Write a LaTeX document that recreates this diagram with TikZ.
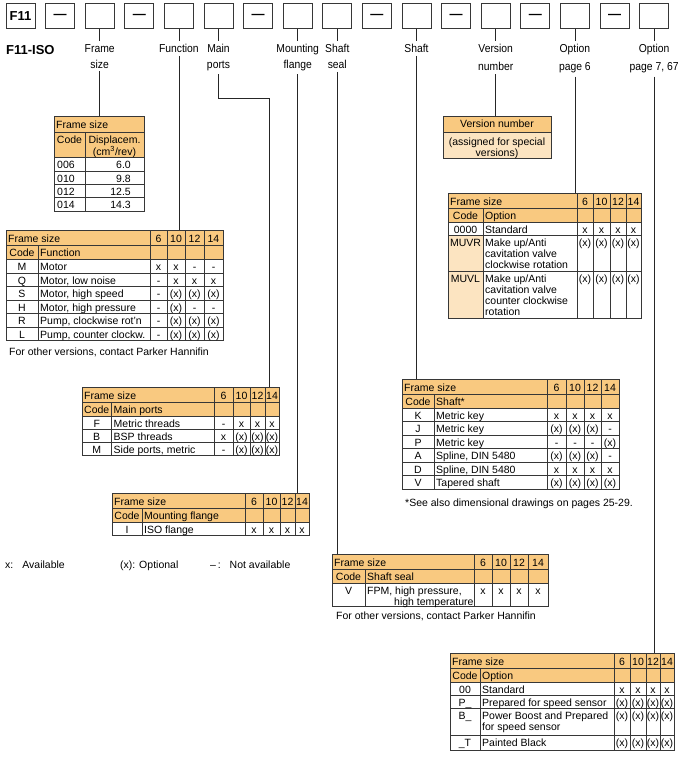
\documentclass[tikz,border=0pt]{standalone}
\usepackage{fontspec}
\setmainfont{Liberation Sans}
\newfontfamily\narrowfont[FakeStretch=0.9]{Liberation Sans}
\usetikzlibrary{positioning}

\definecolor{hdrorange}{RGB}{249,201,128}
\definecolor{peach}{RGB}{252,228,193}
\definecolor{rulegray}{RGB}{55,55,55}

\newcommand{\tablefont}{\fontsize{10.5}{11}\selectfont}

% grid of an option table: x0, y0, code|name, name|6, 6|10, 10|12, 12|14, right, bottom
\newcommand{\optgrid}[9]{%
  \fill[hdrorange] (#1,#2) rectangle (#8,#2+29);
  \draw[gridline] (#1,#2+15) -- (#8,#2+15) (#1,#2+29) -- (#8,#2+29) (#3,#2+15) -- (#3,#9);
  \foreach \xc in {#4,#5,#6,#7} \draw[gridline] (\xc,#2) -- (\xc,#9);
  \draw[gridline] (#1,#2) rectangle (#8,#9);
  \pgfmathsetmacro\tcode{(#1+#3)/2}
  \pgfmathsetmacro\tname{#3+2}
  \pgfmathsetmacro\tma{(#4+#5)/2}
  \pgfmathsetmacro\tmb{(#5+#6)/2}
  \pgfmathsetmacro\tmc{(#6+#7)/2}
  \pgfmathsetmacro\tmd{(#7+#8)/2}
  \def\tleft{#1}\def\tright{#8}
  \node[tx, anchor=base west] at (#1+2,#2+12) {Frame size};
  \node[tx, anchor=base] at (\tma,#2+12) {6};
  \node[tx, anchor=base] at (\tmb,#2+12) {10};
  \node[tx, anchor=base] at (\tmc,#2+12) {12};
  \node[tx, anchor=base] at (\tmd,#2+12) {14};
  \node[tx, anchor=base] at (\tcode,#2+26) {Code};
}
% one row: top, code, text, marks for 6/10/12/14
\newcommand{\datarow}[7]{%
  \draw[gridline] (\tleft,#1) -- (\tright,#1);
  \node[tx, anchor=base] at (\tcode,#1+11) {#2};
  \node[tx, anchor=north west, align=left, execute at begin node=\strut] at (\tname,#1+3.3) {#3};
  \node[tx, anchor=base] at (\tma,#1+11) {#4};
  \node[tx, anchor=base] at (\tmb,#1+11) {#5};
  \node[tx, anchor=base] at (\tmc,#1+11) {#6};
  \node[tx, anchor=base] at (\tmd,#1+11) {#7};
}

\begin{document}
\begin{tikzpicture}[
  x=1pt, y=-1pt,
  node distance=9.7pt,
  box/.style={draw=rulegray, line width=0.9pt, minimum width=29pt, minimum height=25pt, inner sep=0pt, font=\fontsize{13}{14}\selectfont\bfseries},
  lbl/.style={align=center, inner sep=3pt, font=\narrowfont\fontsize{11.5}{16}\selectfont},
  lblwide/.style={lbl, font=\narrowfont\fontsize{11.5}{18.5}\selectfont},
  tx/.style={inner sep=0pt, font=\tablefont},
  gridline/.style={draw=rulegray, line width=0.8pt},
  wire/.style={draw=black!85, line width=0.8pt}
]
\useasboundingbox (0,0) rectangle (683,761);

% ordering code boxes
\node[box] (b1) at (20.5,16) {F11};
\node[box, right=of b1] (b2) {—};
\node[box, right=of b2] (b3) {};
\node[box, right=of b3] (b4) {—};
\node[box, right=of b4] (b5) {};
\node[box, right=of b5] (b6) {};
\node[box, right=of b6] (b7) {—};
\node[box, right=of b7] (b8) {};
\node[box, right=of b8] (b9) {};
\node[box, right=of b9] (b10) {—};
\node[box, right=of b10] (b11) {};
\node[box, right=of b11] (b12) {—};
\node[box, right=of b12] (b13) {};
\node[box, right=of b13] (b14) {—};
\node[box, right=of b14] (b15) {};
\node[box, right=of b15] (b16) {—};
\node[box, right=of b16] (b17) {};
\node[anchor=base west, inner sep=0pt, font=\fontsize{13}{14}\selectfont\bfseries] (iso) at (6,54) {F11-ISO};

% labels
\node[lbl, below=12pt of b3] (l3) {Frame\\size};
\node[lbl, below=12pt of b5] (l5) {Function};
\node[lbl, below=12pt of b6] (l6) {Main\\ports};
\node[lbl, below=12pt of b8] (l8) {Mounting\\flange};
\node[lbl, below=12pt of b9] (l9) {Shaft\\seal};
\node[lbl, below=12pt of b11] (l11) {Shaft};
\node[lblwide, below=12pt of b13] (l13) {Version\\number};
\node[lblwide, below=12pt of b15] (l15) {Option\\page 6};
\node[lblwide, below=12pt of b17] (l17) {Option\\page 7, 67};

% table entry points
\coordinate (fsin) at (100,116);
\coordinate (fnin) at (180,230);
\coordinate (mpbend) at (269,98);
\coordinate (mpin) at (269,387);
\coordinate (mfin) at (298,493);
\coordinate (ssin) at (338,554);
\coordinate (shin) at (417,379);
\coordinate (vnin) at (497,116);
\coordinate (op6in) at (577,193);
\coordinate (op7in) at (652,653);

% connectors
\foreach \n in {3,5,6,8,9,11,13,15,17} \draw[wire] (b\n) -- (l\n);
\draw[wire] (l3) -- (l3 |- fsin);
\draw[wire] (l5) -- (l5 |- fnin);
\draw[wire] (l6) |- (mpbend) -- (mpin);
\draw[wire] (l8) -- (l8 |- mfin);
\draw[wire] (l9) -- (l9 |- ssin);
\draw[wire] (l11) -- (l11 |- shin);
\draw[wire] (l13) -- (l13 |- vnin);
\draw[wire] (l15) -- (l15 |- op6in);
\draw[wire] (l17) -- (l17 |- op7in);

% frame size / displacement
\fill[hdrorange] (54,116) rectangle (144,157);
\draw[gridline] (54,132) -- (144,132) (85,132) -- (85,211);
\foreach \yy in {157,171,184,197} \draw[gridline] (54,\yy) -- (144,\yy);
\draw[gridline] (54,116) rectangle (144,211);
\node[tx, anchor=base west] (fsttl) at (56,128) {Frame size};
\node[tx, anchor=base] (fscode) at (69.5,143) {Code};
\node[tx, anchor=north, align=center, execute at begin node=\strut] (fsdisp) at (114.5,135.3) {Displacem.\\(cm\textsuperscript{3}/rev)};
\foreach \yy/\cc/\vv in {157/006/6.0, 171/010/9.8, 184/012/12.5, 197/014/14.3} {
  \node[tx, anchor=base west] at (57,\yy+11) {\cc};
  \node[tx, anchor=base east] at (131,\yy+11) {\vv};
}

% function
\optgrid{6}{230}{38}{150}{167}{185}{204}{223}{340}
\node[tx, anchor=base west] (fnttl) at (\tname,256) {Function};
\datarow{259}{M}{Motor}{x}{x}{-}{-}
\datarow{273}{Q}{Motor, low noise}{-}{x}{x}{x}
\datarow{286}{S}{Motor, high speed}{-}{(x)}{(x)}{(x)}
\datarow{300}{H}{Motor, high pressure}{-}{(x)}{-}{-}
\datarow{313}{R}{Pump, clockwise rot'n}{-}{(x)}{(x)}{(x)}
\datarow{327}{L}{Pump, counter clockw.}{-}{(x)}{(x)}{(x)}
\node[tx, anchor=base west] (fnnote) at (9,355.5) {For other versions, contact Parker Hannifin};

% main ports
\optgrid{82}{387}{111.5}{214}{233}{250}{265}{279}{455}
\node[tx, anchor=base west] (mpttl) at (\tname,413) {Main ports};
\datarow{416}{F}{Metric threads}{-}{x}{x}{x}
\datarow{429}{B}{BSP threads}{x}{(x)}{(x)}{(x)}
\datarow{442}{M}{Side ports, metric}{-}{(x)}{(x)}{(x)}

% mounting flange
\optgrid{112}{493}{142}{245}{263}{280}{295}{309}{535}
\node[tx, anchor=base west] (mfttl) at (\tname,519) {Mounting flange};
\datarow{522}{I}{ISO flange}{x}{x}{x}{x}

% legend
\node[tx, anchor=base west] (lgx) at (5,568) {x:\hspace{9pt}Available};
\node[tx, anchor=base west] (lgo) at (120,568) {(x): Optional};
\node[tx, anchor=base west] (lgn) at (210,568) {–\thinspace:\hspace{9pt}Not available};

% shaft
\optgrid{402}{379}{434}{547}{566}{584}{601}{619}{489}
\node[tx, anchor=base west] (shttl) at (\tname,405) {Shaft*};
\datarow{408}{K}{Metric key}{x}{x}{x}{x}
\datarow{421}{J}{Metric key}{(x)}{(x)}{(x)}{-}
\datarow{435}{P}{Metric key}{-}{-}{-}{(x)}
\datarow{448}{A}{Spline, DIN 5480}{(x)}{(x)}{(x)}{-}
\datarow{462}{D}{Spline, DIN 5480}{x}{x}{x}{x}
\datarow{475}{V}{Tapered shaft}{(x)}{(x)}{(x)}{(x)}
\node[tx, anchor=base west] (shnote) at (405,506.5) {*See also dimensional drawings on pages 25-29.};

% shaft seal
\optgrid{332}{554}{365}{474}{492}{510}{528}{548}{606}
\node[tx, anchor=base west] (ssttl) at (\tname,580) {Shaft seal};
\datarow{583}{V}{FPM, high pressure,\\\hspace*{27pt}high temperature}{x}{x}{x}{x}
\node[tx, anchor=base west] (ssnote) at (336,619.5) {For other versions, contact Parker Hannifin};

% version number
\fill[hdrorange] (443,116) rectangle (551,132);
\fill[peach] (443,132) rectangle (551,158);
\draw[gridline] (443,116) rectangle (551,158) (443,132) -- (551,132);
\node[tx, anchor=base] (vnttl) at (497,127.5) {Version number};
\node[tx, anchor=north, align=center, execute at begin node=\strut] (vnnote) at (497,137.3) {(assigned for special\\versions)};

% option page 6
\fill[peach] (448,235) rectangle (483,318);
\optgrid{448}{193}{483}{577}{593}{610}{626}{641}{318}
\node[tx, anchor=base west] (o6ttl) at (\tname,219) {Option};
\datarow{222}{0000}{Standard}{x}{x}{x}{x}
\datarow{235}{MUVR}{Make up/Anti\\cavitation valve\\clockwise rotation}{(x)}{(x)}{(x)}{(x)}
\datarow{271}{MUVL}{Make up/Anti\\cavitation valve\\counter clockwise\\rotation}{(x)}{(x)}{(x)}{(x)}

% option page 7, 67
\optgrid{450}{653}{480}{614}{630}{646}{660}{674}{750}
\node[tx, anchor=base west] (o7ttl) at (\tname,679) {Option};
\datarow{682}{00}{Standard}{x}{x}{x}{x}
\datarow{695}{P\_}{Prepared for speed sensor}{(x)}{(x)}{(x)}{(x)}
\datarow{708}{B\_}{Power Boost and Prepared\\for speed sensor}{(x)}{(x)}{(x)}{(x)}
\datarow{735}{\_T}{Painted Black}{(x)}{(x)}{(x)}{(x)}
\end{tikzpicture}
\end{document}
